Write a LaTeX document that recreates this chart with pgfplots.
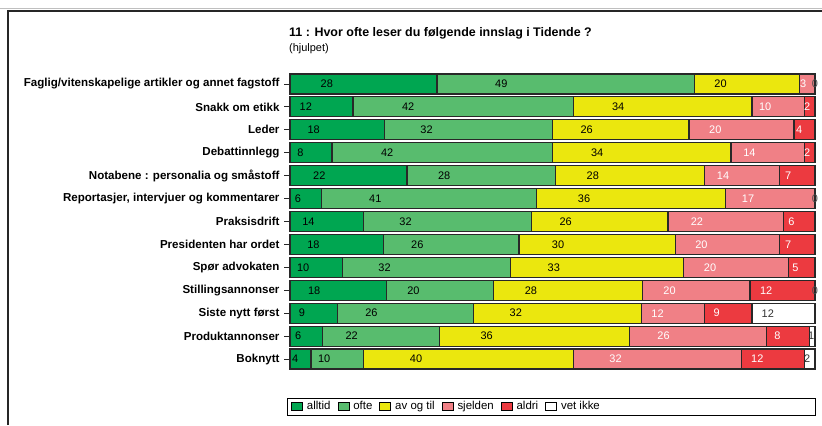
\documentclass[border=0pt]{standalone}
\usepackage{pgfplots}
\usepackage{pgfplotstable}
\pgfplotsset{compat=1.18}
\usepackage{fontspec}
\setmainfont{Liberation Sans}
\definecolor{calltid}{RGB}{0,166,81}
\definecolor{cofte}{RGB}{88,188,110}
\definecolor{cav}{RGB}{235,231,14}
\definecolor{csj}{RGB}{240,128,134}
\definecolor{cald}{RGB}{236,58,64}
\definecolor{cvet}{RGB}{255,255,255}
\definecolor{edge}{RGB}{40,40,40}

% 0 = no label; 0.001 = a zero that is labelled "0"
\pgfplotstableread{
y  alltid ofte avtil sjelden aldri vetikke
12 28   49   20   3    0.001 0
11 12   42   34   10   2    0
10 18   32   26   20   4    0
9  8    42   34   14   2    0
8  22.3 28.3 28.3 14.3 6.8  0
7  6    41   36   17   0.001 0
6  14   32   26   22   6    0
5  17.8 25.8 29.8 19.8 6.8  0
4  10   32   33   20   5    0
3  18.4 20.4 28.4 20.4 12.4 0.001
2  9    26   32   12   9    12
1  6.2  22.2 36.2 26.2 8.2  1
0  4    10   40   32   12   2
}\data

\begin{document}
\begin{tikzpicture}[x=1bp,y=1bp]
\useasboundingbox (0,0) rectangle (822,-425);
\draw[line width=0.8bp, black!25] (0,-8.5) -- (822,-8.5);
\draw[line width=1.2bp, black!85] (8,-425) -- (8,-11) -- (822,-11);
\node[anchor=base west, font=\bfseries\fontsize{12.5}{14}\selectfont, inner sep=0pt] at (289,-36) {11 : Hvor ofte leser du følgende innslag i Tidende ?};
\node[anchor=base west, font=\fontsize{11}{13}\selectfont, inner sep=0pt] at (289,-51) {(hjulpet)};
\begin{axis}[
  at={(290bp,-370.5bp)}, anchor=south west,
  scale only axis, width=525bp, height=298bp,
  xbar stacked, bar width=20bp,
  xmin=0, xmax=100, ymin=-0.5, ymax=12.5,
  axis line style={draw=none},
  xtick=\empty,
  ytick={0,...,12},
  ytick pos=left,
  yticklabels={Boknytt, Produktannonser, Siste nytt først, Stillingsannonser, Spør advokaten, Presidenten har ordet, Praksisdrift, {Reportasjer, intervjuer og kommentarer}, Notabene : personalia og småstoff, Debattinnlegg, Leder, Snakk om etikk, Faglig/vitenskapelige artikler og annet fagstoff},
  yticklabel style={font=\bfseries\fontsize{11.6}{13}\selectfont, text=black, xshift=-1bp},
  tick align=outside, major tick length=6bp,
  ytick style={draw=edge, line width=0.8bp},
  clip=false,
  every axis plot/.append style={draw=edge, line width=1.2bp},
  nodes near coords={\ifdim\w pt<0.0005pt\relax\else\ifdim\w pt<0.5pt\textcolor{black!70}{0}\else\pgfmathprintnumber[fixed,precision=0,assume math mode=true]{\w}\fi\fi},
  every node near coord/.append style={anchor=center, inner sep=0pt, font=\fontsize{11}{12}\selectfont, xshift={-1.3125bp*\w}},
  legend style={at={(axis description cs:0,0)}, anchor=west, yshift=-36bp, xshift=1bp, draw=none, fill=none,
    legend columns=-1, font=\fontsize{11.5}{13}\selectfont, inner sep=0pt,
    /tikz/every odd column/.append style={column sep=2bp},
    /tikz/every even column/.append style={column sep=5bp}},
  legend image code/.code={\draw[#1, draw=black, line width=0.8bp] (0bp,-3.5bp) rectangle (11bp,4bp);},
]
\addplot[fill=calltid, visualization depends on={\thisrow{alltid} \as \w}, every node near coord/.append style={text=black}] table[x=alltid, y=y] {\data};
\addplot[fill=cofte, visualization depends on={\thisrow{ofte} \as \w}, every node near coord/.append style={text=black}] table[x=ofte, y=y] {\data};
\addplot[fill=cav, visualization depends on={\thisrow{avtil} \as \w}, every node near coord/.append style={text=black}] table[x=avtil, y=y] {\data};
\addplot[fill=csj, visualization depends on={\thisrow{sjelden} \as \w}, every node near coord/.append style={text=white}] table[x=sjelden, y=y] {\data};
\addplot[fill=cald, visualization depends on={\thisrow{aldri} \as \w}, every node near coord/.append style={text=white}] table[x=aldri, y=y] {\data};
\addplot[fill=cvet, visualization depends on={\thisrow{vetikke} \as \w}, every node near coord/.append style={text=black!80}] table[x=vetikke, y=y] {\data};
\legend{alltid, ofte, av og til, sjelden, aldri, vet ikke}
\end{axis}
\draw[line width=1bp, black] (287,-398) rectangle (815,-415);
\end{tikzpicture}
\end{document}
